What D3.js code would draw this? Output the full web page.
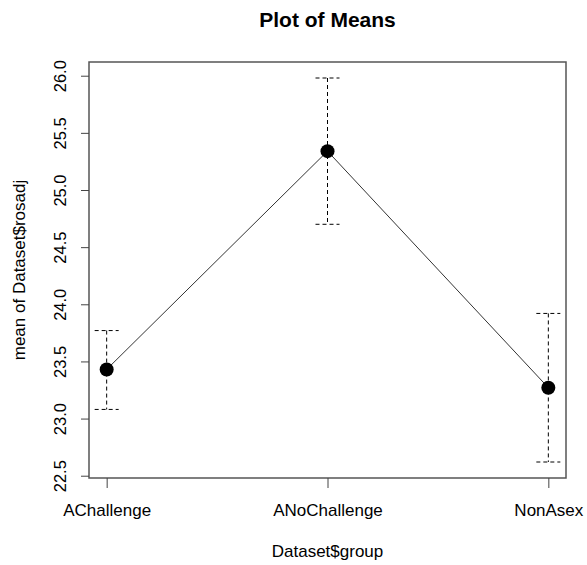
<!DOCTYPE html>
<meta charset="utf-8">
<head lang="en">
    <title>Plot of Means</title>
    <script src="https://cdn.jsdelivr.net/npm/d3@7"></script>
    <style type="text/css">
        body { margin: 0; background: #fff; }
        text { font-family: "Liberation Sans", Arial, sans-serif; fill: #000; }
        .frame { fill: none; stroke: #555; stroke-width: 1.5; }
        .meanline { fill: none; stroke: #333; stroke-width: 1; }
        .err { stroke: #000; stroke-width: 1; stroke-dasharray: 4,3; }
        .dot { fill: #000; }
    </style>
</head>
<body>
<script type="text/javascript">
    // data
    var groups = ["AChallenge", "ANoChallenge", "NonAsex"];
    var means = [23.43, 25.34, 23.27];
    var upper = [23.77, 25.98, 23.92];
    var lower = [23.08, 24.70, 22.62];
    var yTicks = [22.5, 23.0, 23.5, 24.0, 24.5, 25.0, 25.5, 26.0];

    var width = 587, height = 565;
    var plot = {left: 89, right: 566, top: 62, bottom: 478};

    var svg = d3.select("body").append("svg")
        .attr("width", width)
        .attr("height", height);

    // R style 4% padding around 1..n
    var xScale = d3.scaleLinear()
        .domain([0.92, groups.length + 0.08])
        .range([plot.left, plot.right]);
    var yScale = d3.scaleLinear()
        .domain([22.48, 26.12])
        .range([plot.bottom, plot.top]);

    //frame
    svg.append("rect")
        .attr("class", "frame")
        .attr("x", plot.left)
        .attr("y", plot.top)
        .attr("width", plot.right - plot.left)
        .attr("height", plot.bottom - plot.top);

    //x axis
    var xAxis = d3.axisBottom(xScale)
        .tickValues(groups.map(function (d, i) { return i + 1; }))
        .tickFormat(function (d) { return groups[d - 1]; })
        .tickSize(10)
        .tickPadding(16);
    var gx = svg.append("g")
        .attr("transform", "translate(0," + plot.bottom + ")")
        .call(xAxis);
    gx.select(".domain").remove();
    gx.selectAll("line").attr("stroke", "#444");
    gx.selectAll("text")
        .attr("font-size", "17px")
        .attr("font-family", "Liberation Sans, Arial, sans-serif")
        .attr("fill", "#000");

    //y axis, labels rotated like R
    var yAxis = d3.axisLeft(yScale)
        .tickValues(yTicks)
        .tickFormat(d3.format(".1f"))
        .tickSize(8);
    var gy = svg.append("g")
        .attr("transform", "translate(" + plot.left + ",0)")
        .call(yAxis);
    gy.select(".domain").remove();
    gy.selectAll("line").attr("stroke", "#444");
    gy.selectAll("text")
        .attr("font-size", "16.5px")
        .attr("font-family", "Liberation Sans, Arial, sans-serif")
        .attr("fill", "#000")
        .attr("x", 0)
        .attr("dy", null)
        .attr("text-anchor", "middle")
        .attr("transform", "translate(-23,0) rotate(-90)");

    //error bars
    var cap = 12;
    groups.forEach(function (g, i) {
        var cx = xScale(i + 1);
        svg.append("line").attr("class", "err")
            .attr("x1", cx).attr("x2", cx)
            .attr("y1", yScale(upper[i])).attr("y2", yScale(lower[i]));
        [upper[i], lower[i]].forEach(function (v) {
            svg.append("line").attr("class", "err")
                .attr("x1", cx - cap).attr("x2", cx + cap)
                .attr("y1", yScale(v)).attr("y2", yScale(v));
        });
    });

    //line through means
    var line = d3.line()
        .x(function (d, i) { return xScale(i + 1); })
        .y(function (d) { return yScale(d); });
    svg.append("path")
        .datum(means)
        .attr("class", "meanline")
        .attr("d", line);

    svg.selectAll(".dot")
        .data(means)
        .enter()
        .append("circle")
        .attr("class", "dot")
        .attr("cx", function (d, i) { return xScale(i + 1); })
        .attr("cy", function (d) { return yScale(d); })
        .attr("r", 7);

    //titles
    svg.append("text")
        .attr("x", (plot.left + plot.right) / 2)
        .attr("y", 27)
        .attr("text-anchor", "middle")
        .attr("font-size", "21px")
        .attr("font-weight", "bold")
        .text("Plot of Means");
    svg.append("text")
        .attr("x", (plot.left + plot.right) / 2)
        .attr("y", 557)
        .attr("text-anchor", "middle")
        .attr("font-size", "17px")
        .text("Dataset$group");
    svg.append("text")
        .attr("transform", "translate(25," + (plot.top + plot.bottom) / 2 + ") rotate(-90)")
        .attr("text-anchor", "middle")
        .attr("font-size", "17px")
        .text("mean of Dataset$rosadj");
</script>
</body>
